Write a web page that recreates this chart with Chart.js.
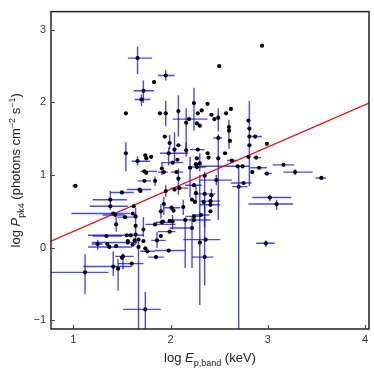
<!DOCTYPE html>
<html>
<head>
<meta charset="utf-8">
<script src="https://cdn.jsdelivr.net/npm/chart.js@4.4.1/dist/chart.umd.min.js"></script>
<style>
  html, body { margin: 0; padding: 0; background: #fff; }
  canvas { display: block; }
</style>
</head>
<body>
<canvas id="chart" width="374" height="374"></canvas>
<script>
// axis ranges and ticks
var xRange = [0.77, 4.04];
var yRange = [-1.12, 3.25];
var xTicks = [1, 2, 3, 4];
var yTicks = [-1, 0, 1, 2, 3];

// axis titles (rich text parts)
var xTitle = [["log ", "n"], ["E", "i"], ["p,band", "sub"], [" (keV)", "n"]];
var yTitle = [["log ", "n"], ["P", "i"], ["pk4", "sub"], [" (photons cm", "n"], ["\u22122", "sup"], [" s", "n"], ["\u22121", "sup"], [")", "n"]];

// bursts: [log Ep, log Ppk4]
var points = [
  [1.66, 2.61], [1.95, 2.37], [1.83, 2.28], [1.72, 2.16], [1.70, 2.04],
  [1.54, 1.85], [1.89, 1.85], [1.95, 1.85], [2.08, 1.88], [2.24, 1.99],
  [2.32, 1.89], [2.38, 1.98], [2.28, 1.85], [2.27, 1.71], [2.30, 1.68],
  [2.19, 1.77], [2.16, 1.72], [2.94, 2.78], [2.50, 2.50], [2.42, 1.83],
  [2.45, 1.77], [2.49, 1.79], [2.57, 1.85], [2.62, 1.91], [2.60, 1.66],
  [2.60, 1.61], [2.61, 1.47], [2.80, 1.75], [2.81, 1.64], [2.81, 1.41],
  [2.80, 1.25], [2.87, 1.53], [2.99, 1.43], [2.88, 1.24], [2.49, 1.51],
  [2.56, 1.30], [2.38, 1.30], [2.39, 1.24], [2.49, 1.23], [2.63, 1.20],
  [2.81, 1.53], [2.28, 1.35], [1.94, 1.53], [1.99, 1.44], [2.08, 1.41],
  [1.54, 1.30], [2.04, 1.35], [1.98, 1.30], [2.16, 1.34], [1.74, 1.27],
  [1.80, 1.25], [1.75, 1.23], [1.66, 1.19], [2.02, 1.17], [2.27, 1.23],
  [2.26, 1.15], [1.73, 1.05], [1.75, 1.03], [1.91, 1.09], [1.93, 1.04],
  [2.20, 1.10], [2.06, 1.04], [2.07, 1.21], [2.30, 1.16], [2.27, 1.11],
  [2.69, 1.12], [2.70, 0.84], [2.74, 1.12], [2.84, 1.04], [2.91, 1.10],
  [2.99, 1.02], [3.16, 1.14], [3.28, 1.04], [3.55, 0.96], [2.47, 0.93],
  [2.75, 0.89], [3.02, 0.69], [3.09, 0.60], [2.98, 0.06], [2.35, 0.99],
  [2.35, 0.74], [2.42, 0.72], [2.41, 0.64], [2.34, 0.63], [2.41, 0.59],
  [2.36, 0.11], [2.35, -0.13], [2.30, 0.07], [2.22, 0.27], [2.15, 0.38],
  [2.24, 0.38], [2.31, 0.45], [2.41, 0.50], [2.26, 0.75], [1.73, 0.92],
  [1.84, 0.92], [2.08, 0.95], [1.68, 0.80], [1.69, 0.78], [1.95, 0.78],
  [2.09, 0.82], [2.04, 0.80], [1.50, 0.76], [2.24, 0.86], [1.38, 0.66],
  [1.38, 0.57], [1.62, 0.57], [1.43, 0.45], [1.61, 0.47], [1.93, 0.60],
  [2.01, 0.55], [2.03, 0.51], [1.90, 0.50], [2.13, 0.56], [2.24, 0.43],
  [2.25, 0.63], [2.22, 0.66], [1.53, 0.42], [1.64, 0.43], [1.64, 0.30],
  [2.02, 0.36], [1.91, 0.35], [1.41, 0.47], [1.44, 0.32], [1.34, 0.16],
  [1.55, 0.17], [1.59, 0.17], [1.64, 0.18], [1.72, 0.25], [1.67, 0.11],
  [1.56, 0.09], [1.56, 0.07], [1.63, 0.10], [1.72, 0.09], [1.25, 0.05],
  [1.35, 0.05], [1.37, 0.01], [1.44, 0.02], [1.61, 0.04], [1.67, 0.01],
  [1.74, -0.01], [1.76, -0.05], [1.50, -0.14], [1.51, -0.12], [1.41, -0.26],
  [1.46, -0.29], [1.60, -0.22], [1.12, -0.34], [1.74, -0.85], [1.85, -0.13],
  [1.98, -0.04], [1.90, 0.16], [1.86, 0.10], [1.84, 0.32], [1.92, 0.36],
  [1.99, 0.37], [1.99, 0.22], [1.02, 0.85]
];

// error range in log Ep, same order as points (null = no bar)
var errE = [
  [1.56, 1.81], [1.87, 2.04], null, [1.62, 1.83], [1.63, 1.79],
  null, null, null, null, null,
  null, null, null, null, null,
  [2.02, 2.38], null, null, null, null,
  null, null, null, null, null,
  null, null, null, null, null,
  null, [2.82, 2.94], null, [2.85, 2.93], [2.44, 2.53],
  null, null, null, null, [2.58, 2.68],
  null, [2.20, 2.35], null, null, null,
  null, null, [1.89, 2.18], null, null,
  null, null, [1.60, 1.79], [1.91, 2.13], null,
  null, [1.69, 1.86], null, null, [1.87, 1.97],
  null, [2.00, 2.13], null, null, [2.18, 2.36],
  [2.30, 2.81], [2.63, 2.79], null, null, [2.82, 2.99],
  [2.96, 3.04], [3.05, 3.27], [3.16, 3.46], [3.49, 3.60], [2.30, 2.63],
  [2.62, 2.83], [2.84, 3.24], [2.80, 3.26], [2.88, 3.07], null,
  [2.27, 2.46], null, [2.30, 2.51], null, [2.30, 2.51],
  [2.13, 2.51], [2.22, 2.44], null, [1.99, 2.20], [1.99, 2.41],
  null, [2.22, 2.40], null, null, [1.66, 1.80],
  null, null, [1.55, 1.80], null, null,
  [2.00, 2.18], null, [1.38, 1.62], [2.15, 2.32], [1.20, 1.55],
  [1.17, 1.56], null, [1.30, 1.52], null, null,
  [1.93, 2.10], null, null, null, [2.15, 2.30],
  null, null, [1.45, 1.65], null, null,
  null, [1.85, 2.00], [0.98, 1.58], null, [1.20, 1.50],
  [1.15, 1.72], null, null, null, null,
  null, [1.19, 1.66], null, null, [1.19, 1.30],
  null, [1.15, 1.60], null, null, null,
  null, [1.69, 1.84], null, [1.43, 1.62], [1.10, 1.60],
  null, [1.46, 1.72], [0.75, 1.36], [1.51, 1.90], [1.77, 1.93],
  [1.84, 2.15], null, [1.80, 1.95], [1.74, 2.05], null,
  null, [1.87, 2.05], [0.99, 1.05]
];

// error range in log Ppk4, same order as points
var errP = [
  [2.39, 2.77], [2.30, 2.45], null, [1.99, 2.30], [1.95, 2.11],
  null, null, [1.67, 2.02], [1.53, 2.10], [1.61, 2.20],
  null, null, null, null, null,
  null, [1.33, 1.92], null, null, null,
  null, [1.60, 1.92], null, null, null,
  [1.36, 1.76], null, null, null, [0.85, 2.02],
  null, null, null, null, null,
  null, null, null, [0.38, 1.56], null,
  null, null, null, [1.35, 1.55], null,
  [1.05, 1.45], [1.18, 1.59], [1.13, 1.38], [1.25, 1.45], null,
  null, null, [1.13, 1.26], null, null,
  null, null, null, [1.00, 1.18], null,
  [0.69, 1.25], null, null, [1.05, 1.30], null,
  null, [-1.3, 1.14], null, null, null,
  null, null, [1.00, 1.08], null, [0.86, 1.00],
  null, [0.64, 0.73], [0.52, 0.66], [0.01, 0.10], [0.28, 1.05],
  null, [0.62, 0.81], null, null, null,
  null, [-0.52, 0.58], [-0.79, 1.00], [-0.28, 0.42], [-0.28, 0.42],
  null, null, null, [0.65, 0.85], null,
  [0.85, 0.98], [0.73, 1.09], null, null, [0.70, 0.86],
  null, null, null, null, [0.52, 0.78],
  null, null, null, null, [0.45, 0.70],
  null, null, [0.40, 0.60], [0.45, 0.66], null,
  null, null, null, [0.40, 0.55], null,
  [0.25, 0.45], null, null, [0.22, 0.42], null,
  null, null, [0.04, 0.42], [0.15, 0.42], null,
  null, null, null, null, [-0.03, 0.11],
  null, null, null, null, [-1.3, 0.08],
  null, null, null, [-0.30, -0.08], [-0.39, -0.05],
  [-0.59, -0.16], null, [-0.64, -0.09], [-1.3, -0.61], null,
  null, null, [0.00, 0.22], null, null,
  null, null, null
];

// best-fit line end points
var fitX = [0.77, 4.04];
var fitY = [0.09, 1.99];

var FONT = '"Liberation Sans", Arial, Helvetica, sans-serif';

function minus(v) {
  return String(v).replace("-", "\u2212");
}

function drawRich(ctx, parts, x, y, angle) {
  function fontOf(p) {
    var small = p[1] === "sub" || p[1] === "sup";
    return (p[1] === "i" ? "italic " : "") + (small ? 9 : 13) + "px " + FONT;
  }
  var w = 0;
  parts.forEach(function (p) {
    ctx.font = fontOf(p);
    w += ctx.measureText(p[0]).width;
  });
  ctx.save();
  ctx.translate(x, y);
  ctx.rotate(angle);
  ctx.fillStyle = "#222";
  ctx.textAlign = "left";
  ctx.textBaseline = "alphabetic";
  var cx = -w / 2;
  parts.forEach(function (p) {
    ctx.font = fontOf(p);
    var dy = p[1] === "sub" ? 3.5 : p[1] === "sup" ? -5.5 : 0;
    ctx.fillText(p[0], cx, dy);
    cx += ctx.measureText(p[0]).width;
  });
  ctx.restore();
}

// error bars go under the points
var errorBars = {
  id: "errorBars",
  beforeDatasetsDraw: function (chart) {
    var ctx = chart.ctx;
    var xs = chart.scales.x;
    var ys = chart.scales.y;
    var a = chart.chartArea;
    ctx.save();
    ctx.beginPath();
    ctx.rect(a.left, a.top, a.right - a.left, a.bottom - a.top);
    ctx.clip();
    ctx.strokeStyle = "rgba(0, 0, 255, 0.72)";
    ctx.lineWidth = 1.4;
    for (var i = 0; i < points.length; i++) {
      var px = xs.getPixelForValue(points[i][0]);
      var py = ys.getPixelForValue(points[i][1]);
      if (errE[i]) {
        ctx.beginPath();
        ctx.moveTo(xs.getPixelForValue(errE[i][0]), py);
        ctx.lineTo(xs.getPixelForValue(errE[i][1]), py);
        ctx.stroke();
      }
      if (errP[i]) {
        ctx.beginPath();
        ctx.moveTo(px, ys.getPixelForValue(errP[i][0]));
        ctx.lineTo(px, ys.getPixelForValue(errP[i][1]));
        ctx.stroke();
      }
    }
    ctx.restore();
  }
};

// box, inward ticks and axis titles
var frame = {
  id: "frame",
  afterDraw: function (chart) {
    var ctx = chart.ctx;
    var a = chart.chartArea;
    var xs = chart.scales.x;
    var ys = chart.scales.y;
    ctx.save();
    ctx.strokeStyle = "#222";
    ctx.lineWidth = 1.5;
    ctx.strokeRect(a.left, a.top, a.right - a.left, a.bottom - a.top);
    ctx.lineWidth = 1;
    ctx.strokeStyle = "#444";
    ctx.beginPath();
    xTicks.forEach(function (v) {
      var p = Math.round(xs.getPixelForValue(v)) + 0.5;
      ctx.moveTo(p, a.bottom);
      ctx.lineTo(p, a.bottom - 4);
    });
    yTicks.forEach(function (v) {
      var p = Math.round(ys.getPixelForValue(v)) + 0.5;
      ctx.moveTo(a.left, p);
      ctx.lineTo(a.left + 4, p);
    });
    ctx.stroke();
    ctx.restore();
    drawRich(ctx, xTitle, (a.left + a.right) / 2, 362, 0);
    drawRich(ctx, yTitle, 20, (a.top + a.bottom) / 2, -Math.PI / 2);
  }
};

var tickFont = { family: FONT, size: 11 };

new Chart(document.getElementById("chart"), {
  type: "scatter",
  data: {
    datasets: [
      {
        data: points.map(function (p) { return { x: p[0], y: p[1] }; }),
        pointRadius: 2.1,
        pointBackgroundColor: "#000",
        pointBorderWidth: 0
      },
      {
        data: fitX.map(function (v, i) { return { x: v, y: fitY[i] }; }),
        showLine: true,
        borderColor: "rgb(255, 0, 0)",
        borderWidth: 1.2,
        pointRadius: 0
      }
    ]
  },
  options: {
    responsive: false,
    animation: false,
    layout: { padding: { left: 0, right: 5, top: 4, bottom: 0 } },
    plugins: { legend: { display: false }, tooltip: { enabled: false } },
    scales: {
      x: {
        type: "linear",
        min: xRange[0],
        max: xRange[1],
        grid: { display: false, drawTicks: false },
        border: { display: false },
        afterBuildTicks: function (s) {
          s.ticks = xTicks.map(function (v) { return { value: v }; });
        },
        afterFit: function (s) { s.height = 45; },
        ticks: { padding: 4, color: "#333", font: tickFont, callback: minus }
      },
      y: {
        type: "linear",
        min: yRange[0],
        max: yRange[1],
        grid: { display: false, drawTicks: false },
        border: { display: false },
        afterBuildTicks: function (s) {
          s.ticks = yTicks.map(function (v) { return { value: v }; });
        },
        afterFit: function (s) { s.width = 51; },
        ticks: { padding: 5, color: "#333", font: tickFont, callback: minus }
      }
    }
  },
  plugins: [errorBars, frame]
});
</script>
</body>
</html>
